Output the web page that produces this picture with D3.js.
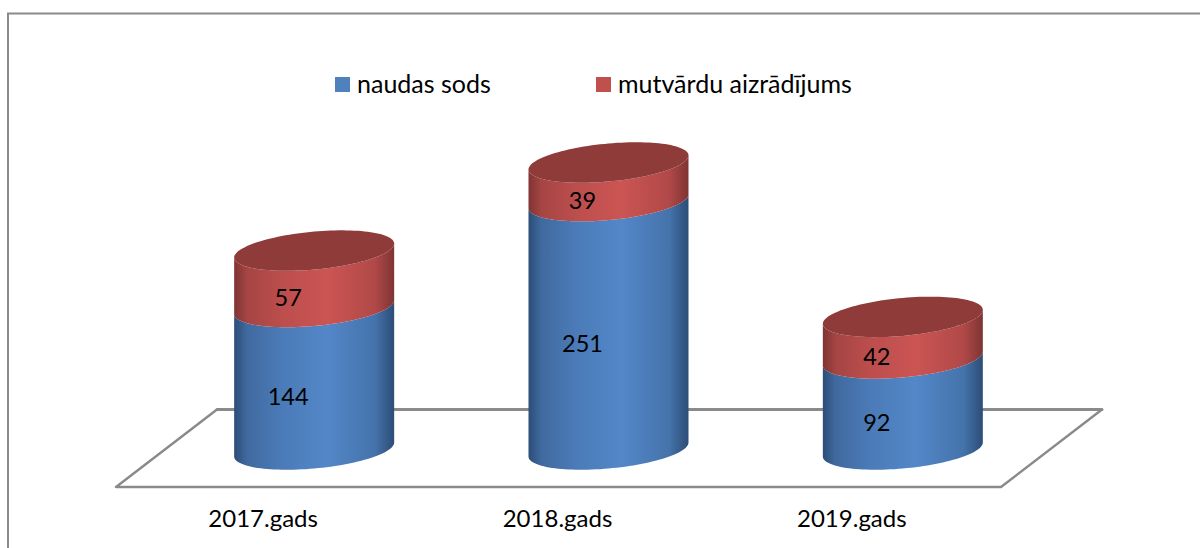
<!DOCTYPE html>
<html><head><meta charset="utf-8">
<script src="https://cdn.jsdelivr.net/npm/d3@7"></script>
<style>html,body{margin:0;padding:0;background:#fff}svg{display:block}text{font-family:Lato,"Open Sans",sans-serif;fill:#000}</style>
</head><body><svg id="c" width="1200" height="548"></svg>
<script>
const categories = ["2017.gads","2018.gads","2019.gads"];
const seriesNames = ["naudas sods","mutvārdu aizrādījums"];
const naudasSods = [144,251,92];
const mutvarduAizradijums = [57,39,42];
const seriesValues = [naudasSods,mutvarduAizradijums];
const bodyDark = ["#2c4d76","#7e3433"];
const bodyMid = ["#5387c8","#cb5553"];
const topColor = ["#4a76ac","#8e3b3a"];
const swatch = ["#4f81bd","#c0504d"];

const svg = d3.select("#c");
const defs = svg.append("defs");
bodyDark.forEach((d,i)=>{
  const g = defs.append("linearGradient").attr("id","g"+i);
  [[0,d],[.08,d3.interpolateRgb(d,bodyMid[i])(.5)],[.3,d3.interpolateRgb(d,bodyMid[i])(.8)],[.58,bodyMid[i]],[.88,d3.interpolateRgb(d,bodyMid[i])(.65)],[1,d]]
    .forEach(s=>g.append("stop").attr("offset",s[0]).attr("stop-color",s[1]));
});

// frame
svg.append("path").attr("d","M8 548V13.5H1200").attr("fill","none").attr("stroke","#8a8a8a").attr("stroke-width",2);

const x = d3.scaleBand().domain(categories).range([167,1050]);
const y = d3.scaleLinear().domain([0,290]).range([449.5,162.5]);
const rx = 80, b = 19, k = 7;
const ell = (cx,cy,t)=>[cx+rx*Math.cos(t), cy+b*Math.sin(t)-k*Math.cos(t)];
const line = d3.line();
const front = (cx,cy)=>d3.range(0,61).map(i=>ell(cx,cy,Math.PI*i/60));
const full = (cx,cy)=>d3.range(0,121).map(i=>ell(cx,cy,Math.PI*i/60));

// floor
const fl = d3.scaleLinear().domain([0,1]).range([487,409.5]);
const fx = d3.scaleLinear().domain([0,1]).range([116,217]);
const floorW = 885;
svg.append("path").attr("d",line([[fx(1),fl(1)],[fx(0),fl(0)],[fx(0)+floorW,fl(0)],[fx(1)+floorW,fl(1)]]))
  .attr("fill","none").attr("stroke","#8a8a8a").attr("stroke-width",2.4).attr("stroke-linejoin","round");
svg.append("path").attr("d",line([[fx(1),fl(1)],[fx(1)+floorW,fl(1)]]))
  .attr("fill","none").attr("stroke","#8a8a8a").attr("stroke-width",3).attr("stroke-linecap","round");

// legend
const legX = [335,596], legT = [357,618];
seriesNames.forEach((n,i)=>{
  svg.append("rect").attr("x",legX[i]).attr("y",77).attr("width",15).attr("height",15).attr("fill",swatch[i]);
  svg.append("text").attr("x",legT[i]).attr("y",93).attr("font-size",25).text(n);
});

// cylinders
categories.forEach((c,ci)=>{
  const cx = x(c)+x.bandwidth()/2;
  let acc = 0;
  seriesValues.forEach((s,si)=>{
    const y0 = y(acc), y1 = y(acc+s[ci]);
    const lower = front(cx,y0);
    const upper = front(cx,y1).reverse();
    svg.append("path").attr("d",line(lower.concat(upper))+"Z").attr("fill",`url(#g${si})`);
    acc += s[ci];
    svg.append("text").attr("x",cx-26).attr("y",(y0+y1)/2+19+8).attr("text-anchor","middle").attr("font-size",23.5).text(s[ci]);
    if(si===seriesValues.length-1) svg.append("path").attr("d",line(full(cx,y1))+"Z").attr("fill",topColor[si]);
  });
  svg.append("text").attr("x",cx-51).attr("y",527).attr("text-anchor","middle").attr("font-size",24).text(c);
});
</script></body></html>
